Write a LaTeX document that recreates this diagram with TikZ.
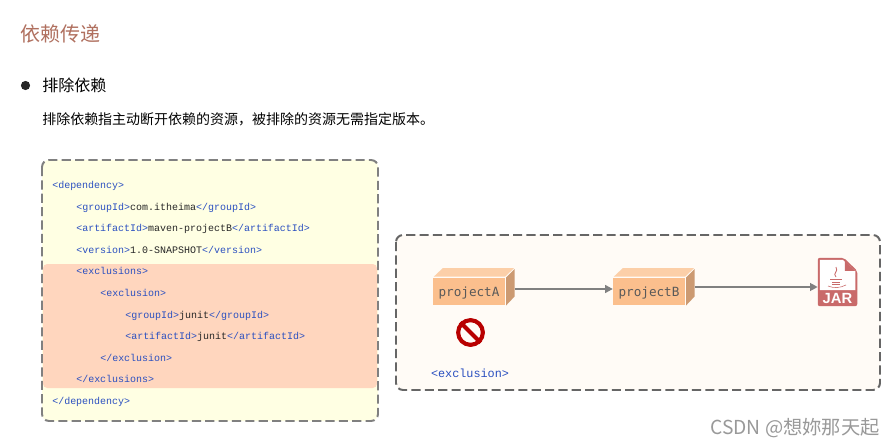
\documentclass[tikz,border=0pt]{standalone}
\usepackage{xcolor}
\usepackage{fontspec}
\usetikzlibrary{arrows.meta, positioning, calc}
\setmainfont{Liberation Sans}
\newfontfamily\cjkfont{Noto Sans CJK SC}
\newfontfamily\codefont{Liberation Mono}
\newfontfamily\boxfont{DejaVu Sans Mono}
\definecolor{codeyellow}{HTML}{FFFFE3}
\definecolor{codeorange}{HTML}{FFD6BE}
\definecolor{panelcream}{HTML}{FFFBF6}
\definecolor{tagblue}{HTML}{2A4FC0}
\definecolor{titlered}{HTML}{B0705F}
\definecolor{cubefront}{HTML}{FBBF8D}
\definecolor{cubetop}{HTML}{FCCFA8}
\definecolor{cubeside}{HTML}{CC9A72}
\definecolor{jarred}{HTML}{C96A6A}
\definecolor{stopred}{HTML}{B80000}
\newcommand{\tg}[1]{\textcolor{tagblue}{#1}}
\tikzset{
  codeline/.style={anchor=base west, inner sep=0pt, text=black!85, font=\codefont\fontsize{7.1pt}{8pt}\selectfont},
  cubebox/.style={fill=cubefront, minimum width=51pt, minimum height=19.4pt, inner sep=0pt, text height=9pt, text depth=1.9pt, text=black!65, font=\boxfont\fontsize{9pt}{10pt}\selectfont},
  flowline/.style={draw=black!50, line width=1.6pt, -{Triangle[length=5.5pt,width=5.5pt]}},
}
\begin{document}
\begin{tikzpicture}[x=0.025cm, y=-0.025cm]
  \useasboundingbox (0,0) rectangle (895,446);
  \fill[white] (0,0) rectangle (895,446);
  \node[anchor=base west, inner sep=0pt, text=titlered, font=\cjkfont\fontsize{14.2pt}{16pt}\selectfont] (title) at (20,42) {依赖传递};
  \fill[black!85] (25.5,85.5) circle (4.6);
  \node[anchor=base west, inner sep=0pt, font=\cjkfont\fontsize{11.4pt}{13pt}\selectfont] (head) at (42,92) {排除依赖};
  \node[anchor=base west, inner sep=0pt, font=\cjkfont\fontsize{9.95pt}{12pt}\selectfont] (desc) at (42,125) {排除依赖指主动断开依赖的资源，被排除的资源无需指定版本。};

  \fill[codeyellow, rounded corners=5] (42,160) rectangle (378,421);
  \fill[codeorange, rounded corners=3] (43,264) rectangle (377,388);
  \draw[black!50, line width=1.4pt, dash pattern=on 6.5pt off 3pt, rounded corners=5] (42,160) rectangle (378,421);
  \foreach \x/\t [count=\i] in {
    52/{\tg{<dependency>}},
    76/{\tg{<groupId>}com.itheima\tg{</groupId>}},
    76/{\tg{<artifactId>}maven-projectB\tg{</artifactId>}},
    76/{\tg{<version>}1.0-SNAPSHOT\tg{</version>}},
    76/{\tg{<exclusions>}},
    100/{\tg{<exclusion>}},
    125/{\tg{<groupId>}junit\tg{</groupId>}},
    125/{\tg{<artifactId>}junit\tg{</artifactId>}},
    100/{\tg{</exclusion>}},
    76/{\tg{</exclusions>}},
    52/{\tg{</dependency>}}} {
    \node[codeline] (line\i) at (\x, 188.5 + \i*21.6 - 21.6) {\t};
  }

  \fill[panelcream, rounded corners=5] (396,235) rectangle (880,390);
  \draw[black!60, line width=1.4pt, dash pattern=on 6.5pt off 3pt, rounded corners=5] (396,235) rectangle (880,390);

  \node[cubebox] (projectA) at (469,291.5) {projectA};
  \node[cubebox] (projectB) at (649,291.5) {projectB};
  \foreach \c in {projectA, projectB} {
    \fill[cubetop] ($(\c.north west)+(1,-1)$) -- ++(9,-8.5) -- ($(\c.north east)+(9,-9.5)$) -- ($(\c.north east)+(0,-1)$) -- cycle;
    \fill[cubeside] ($(\c.north east)+(1,0)$) -- ++(8.5,-8.5) -- ($(\c.south east)+(9.5,-9)$) -- ($(\c.south east)+(1,0)$) -- cycle;
  }
  \coordinate (outA) at ($(projectA.east)+(9.5,-2.5)$);
  \coordinate (outB) at ($(projectB.east)+(9.5,-4.5)$);

  \node[minimum width=27.7pt, minimum height=34pt, inner sep=0pt] (jar) at (837.5,282) {};
  \fill[jarred, rounded corners=1.5] (jar.north west) -- ++(26,0) -- ($(jar.north east)+(0,13)$) -- (jar.south east) -- (jar.south west) -- cycle;
  \fill[white] ($(jar.north west)+(2,2)$) -- ++(23,0) -- ($(jar.north east)+(-2,13)$) -- ($(jar.east)+(-2,8)$) -- ($(jar.west)+(2,8)$) -- cycle;
  \fill[jarred] ($(jar.north east)+(-12.5,3)$) -- ++(0,10) -- ++(10.5,0) -- cycle;
  \node[text=white, inner sep=0pt, font=\bfseries\fontsize{10.5pt}{11pt}\selectfont] (jarlabel) at (837.5,298) {JAR};
  \draw[jarred, line width=0.5pt] (830,279) -- (842,279) (832,282) -- (840,282) (832,284.5) -- (840,284.5);
  \draw[jarred, line width=0.4pt] (828,286) .. controls (834,288.5) and (840,288) .. (846,285);
  \draw[jarred, line width=0.6pt] (836,277) .. controls (832,273) and (839,272) .. (836,267);
  \draw[flowline] (outA) -- (outA -| projectB.west);
  \draw[flowline] (outB) -- (outB -| jar.west);

  \node[circle, draw=stopred, line width=2.9pt, minimum size=17.6pt, inner sep=0pt] (stop) at (470.5,332.5) {};
  \draw[stopred, line width=2.9pt] (stop.north west) -- (stop.south east);
  \node[anchor=base, inner sep=0pt, text=tagblue, font=\codefont\fontsize{8.4pt}{10pt}\selectfont] (exclusionlabel) at (470,377) {<exclusion>};

  \node[anchor=base east, inner sep=0pt, text=black!40, font=\cjkfont\fontsize{13.7pt}{15pt}\selectfont] (mark) at (880,434) {CSDN @想妳那天起};
\end{tikzpicture}
\end{document}
